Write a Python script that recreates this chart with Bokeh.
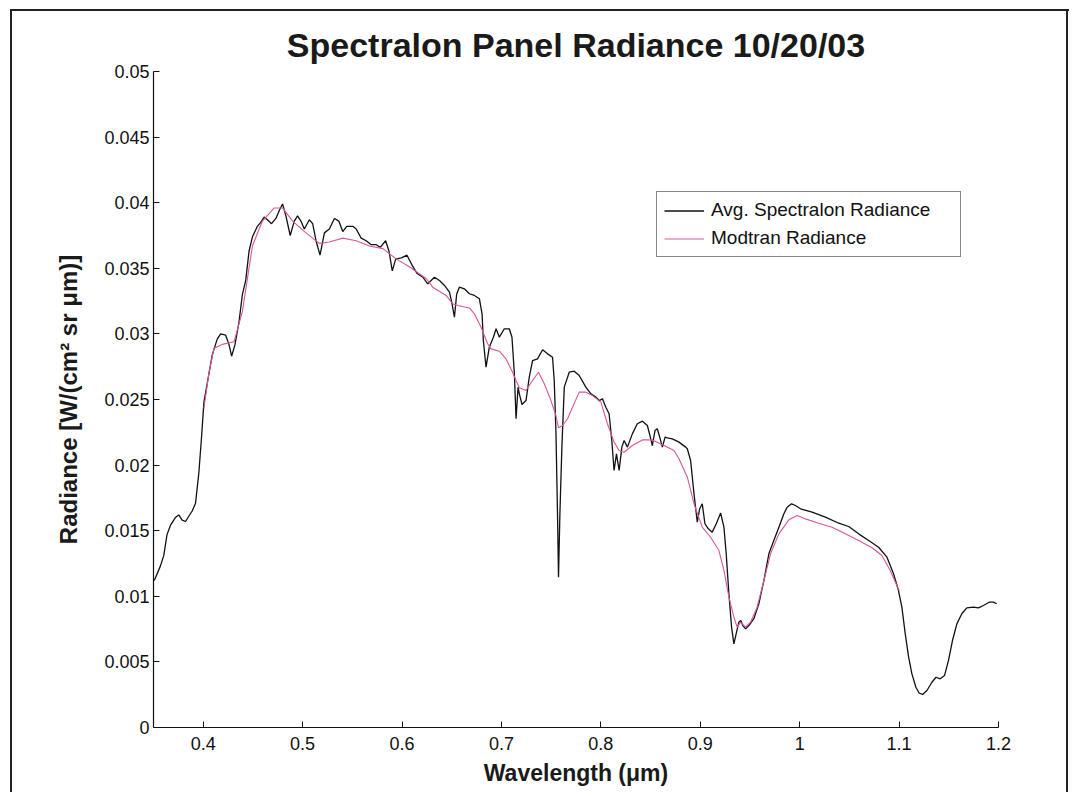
from bokeh.plotting import figure
from bokeh.models import FixedTicker, Range1d, Legend, LegendItem
from bokeh.embed import file_html
from bokeh.resources import INLINE

# ---------------- data ----------------
spec_wl = [0.3508, 0.3569, 0.3603, 0.3636, 0.367, 0.372, 0.3754, 0.3788, 0.3822, 0.3855,
           0.3889, 0.3923, 0.3956, 0.3983, 0.4007, 0.404, 0.4091, 0.4141, 0.4175, 0.4226,
           0.4259, 0.4286, 0.432, 0.436, 0.4394, 0.4428, 0.4461, 0.4495, 0.4545, 0.4579,
           0.4613, 0.4646, 0.4687, 0.4731, 0.4771, 0.4798, 0.4832, 0.4875, 0.4916, 0.4949,
           0.4983, 0.5017, 0.5067, 0.5101, 0.5135, 0.5175, 0.5219, 0.5269, 0.532, 0.5364,
           0.5404, 0.5444, 0.5505, 0.5539, 0.5589, 0.564, 0.569, 0.5741, 0.5781, 0.5835,
           0.5869, 0.5902, 0.5936, 0.5993, 0.605, 0.6104, 0.6152,
           0.6209, 0.6259, 0.6326, 0.6377, 0.6427, 0.6477, 0.65, 0.6527, 0.655, 0.6577,
           0.6627, 0.6678, 0.6728, 0.6778, 0.6805, 0.6818, 0.6845, 0.6878, 0.6919, 0.6946,
           0.6979, 0.7029, 0.7079, 0.7106, 0.713, 0.7147, 0.7167, 0.718, 0.7207, 0.7247,
           0.728, 0.7313, 0.7363, 0.7414, 0.7464, 0.7514, 0.7531, 0.7548, 0.7564, 0.7574,
           0.7588, 0.7608, 0.7632, 0.7682, 0.7732, 0.7782, 0.7849, 0.79, 0.795, 0.7983,
           0.8016, 0.805, 0.8083, 0.811, 0.8133, 0.8157, 0.8184, 0.8211, 0.8234, 0.8267,
           0.8317, 0.8367, 0.8418, 0.8468, 0.8502, 0.8518, 0.8545, 0.8568, 0.8592, 0.8619,
           0.8646, 0.8669, 0.8719, 0.8786, 0.8853,
           0.887, 0.8903, 0.8937, 0.897, 0.8994, 0.902, 0.9047, 0.9081, 0.912, 0.9161,
           0.9205, 0.9238, 0.9261, 0.9288, 0.9315, 0.9338, 0.9361, 0.9388, 0.9408, 0.9428,
           0.9456, 0.9489, 0.9539, 0.9589, 0.964, 0.969, 0.974, 0.9791, 0.9841, 0.9874,
           0.9918, 0.9958, 1.0008, 1.0125, 1.0259, 1.0393, 1.0493, 1.0593, 1.0694, 1.0794,
           1.0878, 1.0944, 1.0994, 1.1028, 1.1062, 1.1096, 1.1129, 1.1169, 1.1203, 1.1237,
           1.128, 1.133, 1.1371, 1.1414, 1.1457, 1.1497, 1.1537, 1.1581, 1.1631, 1.1681,
           1.1748, 1.1798, 1.1848, 1.1906, 1.1949, 1.1982]
spec_rad = [0.0112, 0.0123, 0.0131, 0.0147, 0.0154, 0.0160, 0.0162, 0.0158, 0.0157, 0.0161,
            0.0165, 0.0171, 0.0194, 0.0221, 0.0248, 0.0262, 0.0284, 0.0296, 0.0300, 0.0299,
            0.0292, 0.0283, 0.0292, 0.0309, 0.0330, 0.0341, 0.0363, 0.0374, 0.0382, 0.0385,
            0.0389, 0.0387, 0.0384, 0.0388, 0.0395, 0.0399, 0.0390, 0.0375, 0.0386, 0.0390,
            0.0386, 0.0380, 0.0387, 0.0384, 0.0371, 0.0360, 0.0377, 0.0380, 0.0388, 0.0386,
            0.0378, 0.0382, 0.0382, 0.0380, 0.0373, 0.0371, 0.0368, 0.0368, 0.0366, 0.0371,
            0.0363, 0.0348, 0.0357, 0.0358, 0.0360, 0.0352, 0.0346,
            0.03432, 0.03382, 0.03432, 0.03407, 0.03369, 0.03318, 0.03242, 0.03127, 0.03305, 0.03356,
            0.03344, 0.03306, 0.03293, 0.03268, 0.03153, 0.0295, 0.02746, 0.02899, 0.02975, 0.03039,
            0.02975, 0.03039, 0.03039, 0.02975, 0.02696, 0.02353, 0.02594, 0.02543, 0.02462, 0.02492,
            0.0267, 0.02797, 0.0281, 0.02879, 0.02848, 0.02822, 0.02645, 0.02264, 0.01629, 0.01146,
            0.01629, 0.02137, 0.02594, 0.02708, 0.02716, 0.02683, 0.02594, 0.02543, 0.02518, 0.02492,
            0.02505, 0.02441, 0.02391, 0.02188, 0.01959, 0.02086, 0.01959, 0.02137, 0.02188, 0.02137,
            0.02238, 0.02315, 0.02335, 0.02302, 0.022, 0.02149, 0.02264, 0.02277, 0.02213, 0.02137,
            0.02213, 0.02208, 0.022, 0.02175, 0.02137,
            0.02124, 0.02035, 0.01781, 0.01565, 0.01667, 0.01705, 0.01553, 0.01514, 0.01489, 0.01553,
            0.01634, 0.01527, 0.01324, 0.01019, 0.00765, 0.00638, 0.00714, 0.00803, 0.00816, 0.00777,
            0.00752, 0.00777, 0.00829, 0.00943, 0.0112, 0.01324, 0.01425, 0.01527, 0.01629, 0.01679,
            0.01705, 0.01692, 0.01667, 0.01641, 0.01603, 0.01557, 0.01532, 0.01476, 0.01425, 0.01374,
            0.01298, 0.01172, 0.01044, 0.00917, 0.00714, 0.00536, 0.00409, 0.00307, 0.00261, 0.00252,
            0.00282, 0.00345, 0.00383, 0.00371, 0.00396, 0.00511, 0.00663, 0.0079, 0.00867, 0.00912,
            0.00917, 0.00912, 0.0093, 0.00955, 0.00955, 0.00943]

modtran_wl = [0.4007, 0.4057, 0.4108, 0.4192, 0.431, 0.4394, 0.4495, 0.4596, 0.4714, 0.4798,
              0.4899, 0.5034, 0.5168, 0.5269, 0.5404, 0.5539, 0.5673, 0.5808, 0.5943, 0.6077,
              0.6246, 0.6309, 0.6444, 0.651, 0.656, 0.6678, 0.6728, 0.6795, 0.6861, 0.6896,
              0.6979, 0.7046, 0.7112, 0.7147, 0.718, 0.7247, 0.7313, 0.7373, 0.7431, 0.7498,
              0.7548, 0.7574, 0.7615, 0.7665, 0.7715, 0.7782, 0.7849, 0.7916, 0.8, 0.8066,
              0.8133, 0.8184, 0.8234, 0.8317, 0.8418, 0.8518, 0.8635, 0.8736, 0.8786, 0.887,
              0.8937, 0.902, 0.9104, 0.9188, 0.9238, 0.9288, 0.9338, 0.9371, 0.9406, 0.9456,
              0.9506, 0.9572, 0.964, 0.9707, 0.9791, 0.9891, 0.9974, 1.0058, 1.0192, 1.0325,
              1.0459, 1.0593, 1.0727, 1.0827, 1.0911, 1.0977, 1.1001]
modtran_rad = [0.0243, 0.0270, 0.0289, 0.0292, 0.0294, 0.0317, 0.0367, 0.0386, 0.0396, 0.0396,
               0.0386, 0.0377, 0.0369, 0.0370, 0.0373, 0.0371, 0.0367, 0.0365, 0.0357, 0.0351,
               0.0342, 0.03356, 0.03293, 0.03229, 0.03216, 0.03198, 0.03153, 0.03051, 0.02925, 0.02886,
               0.02868, 0.0281, 0.02708, 0.02645, 0.02589, 0.02569, 0.02645, 0.02708, 0.0262, 0.02492,
               0.02378, 0.02284, 0.02302, 0.02353, 0.02441, 0.02556, 0.02556, 0.0253, 0.0248, 0.02315,
               0.02175, 0.02111, 0.02098, 0.02149, 0.02192, 0.02192, 0.02149, 0.02111, 0.02048, 0.01908,
               0.01705, 0.01527, 0.0145, 0.01349, 0.01197, 0.00993, 0.00841, 0.00765, 0.00803, 0.00765,
               0.00803, 0.00917, 0.0112, 0.01324, 0.01476, 0.01583, 0.01616, 0.0159, 0.01557, 0.01527,
               0.01476, 0.01425, 0.0137, 0.01311, 0.01197, 0.01082, 0.01044]

x_ticks = [0.4, 0.5, 0.6, 0.7, 0.8, 0.9, 1.0, 1.1, 1.2]
x_tick_labels = ["0.4", "0.5", "0.6", "0.7", "0.8", "0.9", "1", "1.1", "1.2"]
y_ticks = [0.0, 0.005, 0.01, 0.015, 0.02, 0.025, 0.03, 0.035, 0.04, 0.045, 0.05]
y_tick_labels = ["0", "0.005", "0.01", "0.015", "0.02", "0.025", "0.03", "0.035", "0.04", "0.045", "0.05"]

series_names = ["Avg. Spectralon Radiance", "Modtran Radiance"]
title_text = "Spectralon Panel Radiance 10/20/03"
x_label = "Wavelength (\u03bcm)"
y_label = "Radiance [W/(cm\u00b2 sr \u03bcm)]"

FONT = "Liberation Sans"

p = figure(width=1069, height=792, output_backend="svg", toolbar_location=None,
           x_range=Range1d(0.35, 1.2), y_range=Range1d(0, 0.05),
           min_border_left=153, min_border_right=71, min_border_top=71, min_border_bottom=65,
           title=title_text)
# scanned-page frame: left, top and right edges only
p.styles = {
    "background-image": "linear-gradient(#222, #222), linear-gradient(#222, #222), linear-gradient(#222, #222)",
    "background-size": "2px 100%, 100% 2px, 2px 100%",
    "background-position": "10px 10px, 10px 9px, 1066px 10px",
    "background-repeat": "no-repeat",
}

p.title.align = "center"
p.title.text_font = FONT
p.title.text_font_size = "34px"
p.title.text_font_style = "bold"
p.title.text_color = "#1a1a1a"
p.title.standoff = 15

p.xgrid.visible = False
p.ygrid.visible = False
p.outline_line_color = None
p.background_fill_color = "white"
p.border_fill_color = None

for ax in (p.xaxis[0], p.yaxis[0]):
    ax.axis_line_color = "#111"
    ax.axis_line_width = 1.2
    ax.major_tick_in = 6
    ax.major_tick_out = 0
    ax.major_tick_line_color = "#111"
    ax.minor_tick_line_color = None
    ax.major_label_text_font = FONT
    ax.major_label_text_font_size = "18px"
    ax.major_label_text_color = "#111"
    ax.axis_label_text_font = FONT
    ax.axis_label_text_font_size = "23px"
    ax.axis_label_text_font_style = "bold"
    ax.axis_label_text_color = "#1a1a1a"

p.xaxis[0].ticker = FixedTicker(ticks=x_ticks)
p.xaxis[0].major_label_overrides = dict(zip(x_ticks, x_tick_labels))
p.xaxis[0].major_label_standoff = 9
p.xaxis[0].axis_label = x_label
p.xaxis[0].axis_label_standoff = 7

p.yaxis[0].ticker = FixedTicker(ticks=y_ticks)
p.yaxis[0].major_label_overrides = dict(zip(y_ticks, y_tick_labels))
p.yaxis[0].major_label_standoff = 4
p.yaxis[0].axis_label = y_label
p.yaxis[0].axis_label_text_font_size = "24px"
p.yaxis[0].axis_label_standoff = 19

r1 = p.line(spec_wl, spec_rad, line_color="#111111", line_width=1.3)
r2 = p.line(modtran_wl, modtran_rad, line_color="#d6589a", line_width=1.1)

legend = Legend(items=[LegendItem(label=series_names[0], renderers=[r1]),
                       LegendItem(label=series_names[1], renderers=[r2])],
                location=(503, 470))
legend.border_line_color = "#111"
legend.border_line_width = 1
legend.background_fill_color = "white"
legend.background_fill_alpha = 1
legend.padding = 7
legend.spacing = 6
legend.margin = 0
legend.glyph_width = 40
legend.glyph_height = 21
legend.label_height = 21
legend.label_standoff = 7
legend.label_width = 242
legend.label_text_font = FONT
legend.label_text_font_size = "19px"
legend.label_text_color = "#111"
p.add_layout(legend, "center")

open("out.html", "w").write(file_html(p, INLINE))
